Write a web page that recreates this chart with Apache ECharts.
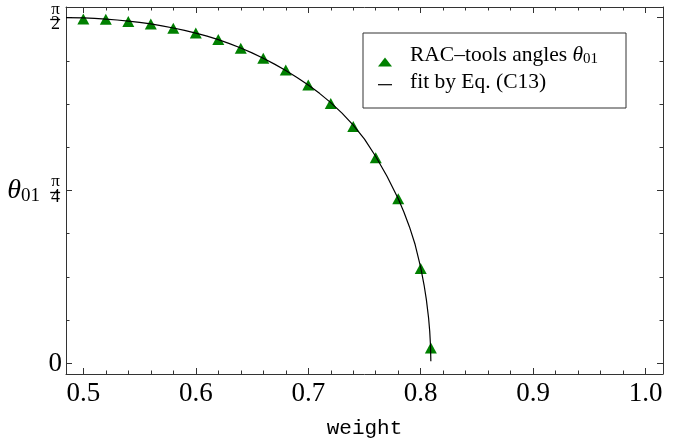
<!DOCTYPE html>
<html>
<head>
<meta charset="utf-8">
<script src="https://cdn.jsdelivr.net/npm/echarts@6/dist/echarts.min.js"></script>
<style>
html,body{margin:0;padding:0;background:#fff;}
#chart{width:685px;height:446px;}
</style>
</head>
<body>
<div id="chart"></div>
<script>
// ---- data ----
const weights = [0.50,0.52,0.54,0.56,0.58,0.60,0.62,0.64,0.66,0.68,0.70,0.72,0.74,0.76,0.78,0.80,0.809];
const angles  = [1.5638,1.5629,1.5524,1.5411,1.5220,1.5007,1.4707,1.4312,1.3858,1.3323,1.2642,1.1807,1.0758,0.9342,0.7481,0.4312,0.0704];

const fitX = [0.4846,0.50,0.51,0.52,0.53,0.54,0.55,0.56,0.57,0.58,0.59,0.60,0.61,0.62,0.63,0.64,0.65,0.66,0.67,0.68,0.69,0.70,0.71,0.72,0.73,0.74,0.75,0.76,0.77,0.78,0.785,0.79,0.795,0.80,0.803,0.805,0.807,0.808,0.8087,0.809];
const fitY = [1.5708,1.5690,1.5670,1.5640,1.5598,1.5548,1.5488,1.5418,1.5333,1.5235,1.5125,1.5000,1.4862,1.4704,1.4526,1.4326,1.4104,1.3860,1.3594,1.3304,1.2988,1.2644,1.2266,1.1846,1.1370,1.0826,1.0186,0.9400,0.8500,0.7480,0.6880,0.6200,0.5400,0.4350,0.3550,0.2900,0.2050,0.1450,0.0790,0.0100];

const xTicks = [0.5,0.6,0.7,0.8,0.9,1.0];
const xTickLabels = ['0.5','0.6','0.7','0.8','0.9','1.0'];
const xMinorTicks = [0.52,0.54,0.56,0.58,0.62,0.64,0.66,0.68,0.72,0.74,0.76,0.78,0.82,0.84,0.86,0.88,0.92,0.94,0.96,0.98];
const yTicks = [0, Math.PI/4, Math.PI/2];
const yTickLabels = ['0', 'π/4', 'π/2'];
const yMinorTicks = [1,2,3,5,6,7].map(k => k*Math.PI/16);

const seriesNames = ['RAC–tools angles θ01', 'fit by Eq. (C13)'];

// ---- chart ----
const X_MIN = 0.4846, X_MAX = 1.0154;
const Y_MIN = -0.0480, Y_MAX = 1.6188;
const SERIF = 'Liberation Serif';
const FRAME = '#333';

function nearestIdx(arr, v){
  let b=0; for(let i=1;i<arr.length;i++){ if(Math.abs(arr[i]-v)<Math.abs(arr[b]-v)) b=i; } return b;
}

function xAx(pos, ticks, len, main){
  return {
    type:'value', position:pos, min:X_MIN, max:X_MAX, gridIndex:0,
    axisLine:{show:main, onZero:false, lineStyle:{color:FRAME,width:1}},
    axisTick:{show:true, inside:true, length:len, customValues:ticks, lineStyle:{color:FRAME,width:1}},
    axisLabel:{show:false}, splitLine:{show:false}
  };
}
function yAx(pos, ticks, len, main){
  return {
    type:'value', position:pos, min:Y_MIN, max:Y_MAX, gridIndex:0,
    axisLine:{show:main, onZero:false, lineStyle:{color:FRAME,width:1}},
    axisTick:{show:true, inside:true, length:len, customValues:ticks, lineStyle:{color:FRAME,width:1}},
    axisLabel:{show:false}, splitLine:{show:false}
  };
}

const xMain = xAx('bottom', xTicks, 6, true);
xMain.axisLabel = {
  show:true, customValues:xTicks, margin:6,
  fontFamily:SERIF, fontSize:27, color:'#000',
  formatter: v => xTickLabels[nearestIdx(xTicks, v)]
};
xMain.name = 'weight';
xMain.nameLocation = 'middle';
xMain.nameGap = 44;
xMain.nameTextStyle = {fontFamily:'Liberation Mono', fontSize:21, color:'#000'};

// main left axis: "0" and the numerator / denominator of the fractions
const yMain = yAx('left', yTicks, 6, true);
yMain.axisLabel = {
  show:true, customValues:yTicks, margin:4, color:'#000',
  fontFamily:SERIF, fontSize:27,
  formatter: v => {
    const s = yTickLabels[nearestIdx(yTicks, v)];
    if (s.indexOf('/') < 0) return '{z|' + s + '}';
    const p = s.split('/');
    return '{n|' + p[0] + '}\n{d|' + p[1] + '}';
  },
  rich:{
    z:{fontFamily:SERIF, fontSize:27, color:'#000'},
    n:{fontFamily:SERIF, fontSize:17, lineHeight:13, align:'center', padding:[0,2,0,0], color:'#000'},
    d:{fontFamily:SERIF, fontSize:18, lineHeight:17, align:'center', padding:[0,2,0,0], color:'#000'}
  }
};
yMain.name = '{t|θ}{s|01}';
yMain.nameLocation = 'middle';
yMain.nameRotate = 0;
yMain.nameGap = 26;
yMain.nameTextStyle = {
  rich:{
    t:{fontFamily:SERIF, fontStyle:'italic', fontSize:28, lineHeight:30, color:'#000'},
    s:{fontFamily:SERIF, fontSize:19, lineHeight:19, padding:[11,0,0,0], color:'#000'}
  }
};

// left minor-tick axis also carries the fraction bars of π/4 and π/2
const yMinorLeft = yAx('left', yMinorTicks, 3.5, false);
yMinorLeft.axisLabel = {
  show:true, customValues:[yTicks[1], yTicks[2]], margin:6,
  padding:[7,0,0,0],
  formatter: () => '{bar|─}',
  rich:{
    bar:{fontFamily:'DejaVu Sans Mono', fontSize:16, lineHeight:8, color:'#000'}
  }
};

const option = {
  animation:false,
  backgroundColor:'#fff',
  grid:{left:66, right:22, top:7, bottom:72},
  xAxis:[
    xMain,
    xAx('bottom', xMinorTicks, 3.5, false),
    xAx('top', xTicks, 6, true),
    xAx('top', xMinorTicks, 3.5, false)
  ],
  yAxis:[
    yMain,
    yMinorLeft,
    yAx('right', yTicks, 6, true),
    yAx('right', yMinorTicks, 3.5, false)
  ],
  legend:{
    orient:'vertical', left:363, top:33,
    padding:[10.5, 28, 14.8, 15],
    itemGap:4.7, itemWidth:14, itemHeight:9,
    borderColor:FRAME, borderWidth:1, backgroundColor:'#fff',
    textStyle:{
      fontFamily:SERIF, fontSize:21.5, color:'#000',
      rich:{
        a:{fontFamily:SERIF, fontSize:21.5, lineHeight:21, color:'#000'},
        t:{fontFamily:SERIF, fontStyle:'italic', fontSize:21.5, lineHeight:21, color:'#000'},
        s:{fontFamily:SERIF, fontSize:15, lineHeight:15, padding:[8,0,0,0], color:'#000'}
      }
    },
    formatter: name => {
      if (name === seriesNames[0]) return '{a|RAC–tools angles }{t|θ}{s|01}';
      return '{a|' + name + '}';
    },
    data:[
      {name:seriesNames[0], icon:'triangle', textStyle:{padding:[0,0,14,13]}},
      {name:seriesNames[1], icon:'path://M0,0H14V1.2H0Z', textStyle:{padding:[0,0,5,13]}}
    ]
  },
  series:[
    {
      name:seriesNames[0], type:'scatter', xAxisIndex:0, yAxisIndex:0,
      symbol:'triangle', symbolSize:[12,11],
      itemStyle:{color:'#008000', opacity:1},
      data: weights.map((w,i)=>[w, angles[i]]),
      z:2
    },
    {
      name:seriesNames[1], type:'line', xAxisIndex:0, yAxisIndex:0,
      symbol:'none', showSymbol:false, smooth:false,
      lineStyle:{color:'#000', width:1.2},
      itemStyle:{color:'#000'},
      data: fitX.map((x,i)=>[x, fitY[i]]),
      z:3
    }
  ]
};

const chart = echarts.init(document.getElementById('chart'), null, {renderer:'canvas'});
chart.setOption(option);
</script>
</body>
</html>
